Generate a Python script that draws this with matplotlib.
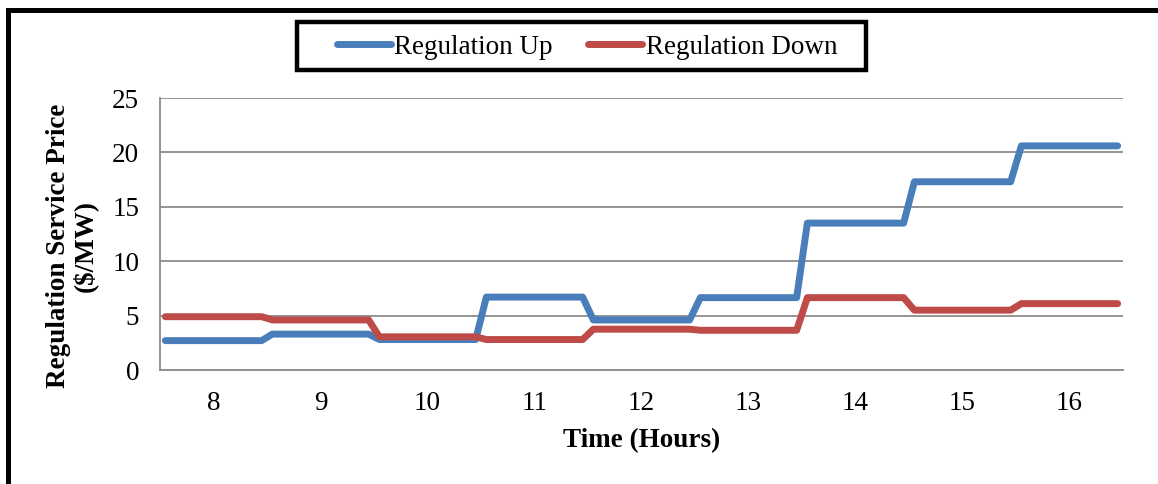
import numpy as np
import matplotlib
matplotlib.use("Agg")
import matplotlib.pyplot as plt
from matplotlib.patches import Rectangle

plt.rcParams['font.family'] = ['Liberation Serif', 'DejaVu Serif']

# hourly prices ($/MW)
hours = [8, 9, 10, 11, 12, 13, 14, 15, 16]
reg_up = [2.7, 3.3, 2.8, 6.7, 4.6, 6.65, 13.5, 17.3, 20.6]
reg_down = [4.9, 4.6, 3.05, 2.8, 3.75, 3.65, 6.65, 5.5, 6.1]
y_ticks = [0, 5, 10, 15, 20, 25]

# each hour is a flat segment, neighbours joined by a short ramp
def hour_path(values):
    xs, ys = [], []
    for h, v in zip(hours, values):
        xs += [h - 0.45, h + 0.45]
        ys += [v, v]
    return xs, ys

W, H = 1158, 484
fs = 19.5
fig = plt.figure(figsize=(W / 100, H / 100), dpi=100)
ax = fig.add_axes([160 / W, 1 - 370 / H, (1123 - 160) / W, (370 - 98) / H])

grid_col = '#8c8c8c'
for yv in y_ticks:
    ax.axhline(yv, color=grid_col, lw=1.3, zorder=1)

x_up, y_up = hour_path(reg_up)
x_dn, y_dn = hour_path(reg_down)
ax.plot(x_up, y_up, color='#4A7EBB', lw=5.0, solid_capstyle='round',
        solid_joinstyle='round', label='Regulation Up', zorder=3)
ax.plot(x_dn, y_dn, color='#BE4B48', lw=5.0, solid_capstyle='round',
        solid_joinstyle='round', label='Regulation Down', zorder=3)

ax.set_xlim(7.5, 16.5)
ax.set_ylim(0, 25)
ax.set_xticks(hours)
ax.set_xticklabels([str(h) for h in hours])
ax.set_yticks(y_ticks)
ax.tick_params(axis='both', length=0, labelsize=fs)
ax.tick_params(axis='y', pad=15)
ax.tick_params(axis='x', pad=15)

for s in ['top', 'right']:
    ax.spines[s].set_visible(False)
for s in ['left', 'bottom']:
    ax.spines[s].set_color(grid_col)
    ax.spines[s].set_linewidth(1.3)

ax.set_xlabel('Time (Hours)', fontsize=fs, fontweight='bold', labelpad=9)
ax.set_ylabel('Regulation Service Price\n($/MW)', fontsize=fs, fontweight='bold',
              linespacing=1.05)
ax.yaxis.set_label_coords(-0.064, 0.456)

# legend box drawn separately, entries placed inside it
fig.patches.append(Rectangle((297 / W, 1 - 70 / H), (866 - 297) / W, 48 / H,
                             transform=fig.transFigure, fill=False,
                             edgecolor='black', lw=3.2, zorder=5))
leg = fig.legend(loc='center left', bbox_to_anchor=(337 / W, 1 - 47 / H), ncol=2,
                 fontsize=fs, frameon=False, handlelength=2.0,
                 handletextpad=0.12, columnspacing=1.3, borderpad=0,
                 borderaxespad=0)

# outer chart border
fig.patches.append(Rectangle((8 / W, -0.02), (1159 - 8) / W, 1 - 10 / H + 0.02,
                             transform=fig.transFigure, fill=False,
                             edgecolor='black', lw=3.6))

fig.savefig('out.png', dpi=100)
